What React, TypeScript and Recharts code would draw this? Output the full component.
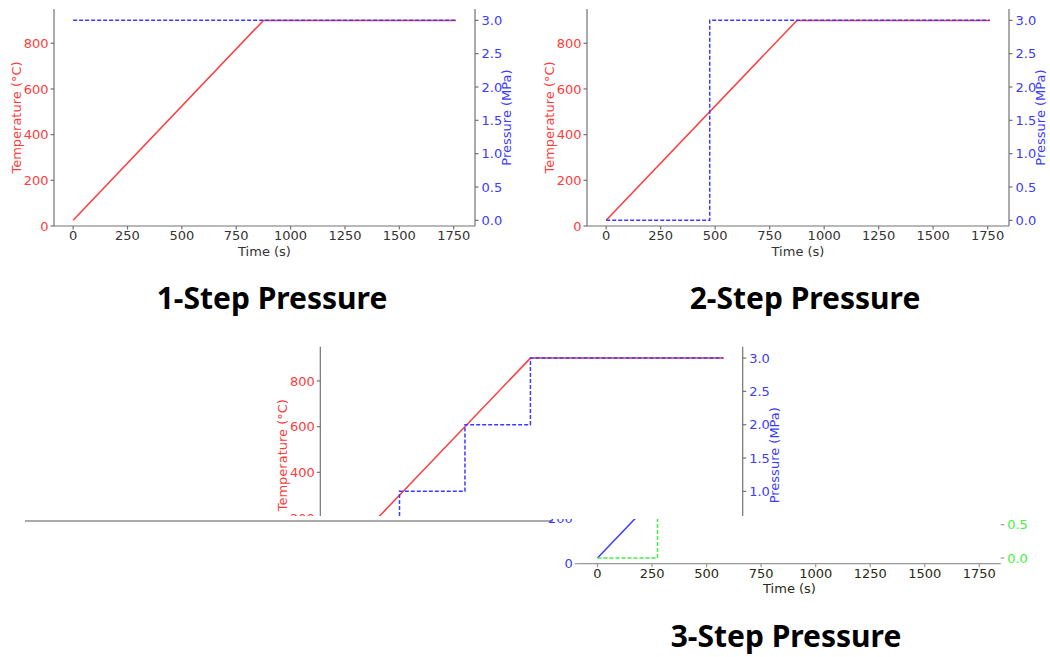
import React from "react";
import { LineChart, Line, XAxis, YAxis } from "recharts";

// time axis (s), temperature (°C), pressure (MPa)
const timeTicks = [0, 250, 500, 750, 1000, 1250, 1500, 1750];
const tempTicks = [0, 200, 400, 600, 800];
const pressTicks = [0, 0.5, 1, 1.5, 2, 2.5, 3];

const temperature = [
  { t: 0, T: 25 },
  { t: 875, T: 900 },
  { t: 1760, T: 900 },
];

const pressure1 = [
  { t: 0, P: 3 },
  { t: 1760, P: 3 },
];

const pressure2 = [
  { t: 0, P: 0 },
  { t: 475, P: 3 },
  { t: 1760, P: 3 },
];

const pressure3 = [
  { t: 0, P: 0 },
  { t: 275, P: 1 },
  { t: 575, P: 2 },
  { t: 875, P: 3 },
  { t: 1760, P: 3 },
];

const FONT = "DejaVu Sans, sans-serif";
const FS = 13;
const RED = "#ff3b3b";
const BLUE = "#3b3bff";
const GREEN = "#44ee44";
const GREY = "#737373";

const yTitle = (text: string, color: string, side: "left" | "right") => (props: any) => {
  const vb = props.viewBox || {};
  const cx = side === "left" ? vb.x + vb.width - 37.3 : vb.x + 31.5;
  const cy = vb.y + vb.height / 2;
  return (
    <text
      x={cx}
      y={cy}
      fill={color}
      fontSize={FS}
      fontFamily={FONT}
      textAnchor="middle"
      dominantBaseline="central"
      transform={`rotate(-90, ${cx}, ${cy})`}
    >
      {text}
    </text>
  );
};

const xTitle = (color: string) => (props: any) => {
  const vb = props.viewBox || {};
  return (
    <text
      x={vb.x + vb.width / 2}
      y={vb.y + 25}
      fill={color}
      fontSize={FS}
      fontFamily={FONT}
      textAnchor="middle"
      dominantBaseline="central"
    >
      Time (s)
    </text>
  );
};

type PanelProps = {
  w: number;
  h: number;
  mt: number;
  lw: number;
  rw: number;
  xh: number;
  pressure: { t: number; P: number }[];
  tempColor?: string;
  pressColor?: string;
  tickColor?: string;
  spine?: string;
  frame?: boolean;
  titles?: boolean;
};

function Panel({
  w, h, mt, lw, rw, xh, pressure,
  tempColor = RED, pressColor = BLUE, tickColor = "#333", spine = GREY,
  frame = true, titles = true,
}: PanelProps) {
  return (
    <LineChart width={w} height={h} margin={{ top: mt, right: 0, bottom: 0, left: 0 }}>
      <XAxis
        dataKey="t"
        type="number"
        domain={[-88, 1848]}
        ticks={timeTicks}
        allowDataOverflow
        height={xh}
        tickSize={3.5}
        tickMargin={1.5}
        stroke={spine}
        strokeWidth={1.2}
        tick={{ fill: tickColor, fontSize: FS, fontFamily: FONT }}
        label={{ content: xTitle(tickColor) }}
      />
      {frame && (
        <XAxis
          xAxisId="top"
          orientation="top"
          dataKey="t"
          type="number"
          domain={[-88, 1848]}
          allowDataOverflow
          height={0}
          tick={false}
          tickLine={false}
          stroke={spine}
          strokeWidth={1.2}
        />
      )}
      <YAxis
        yAxisId="temp"
        orientation="left"
        type="number"
        domain={[0, 950]}
        ticks={tempTicks}
        allowDataOverflow
        width={lw}
        tickSize={3.5}
        tickMargin={2}
        stroke={spine}
        strokeWidth={1.2}
        axisLine={frame}
        tick={{ fill: tempColor, fontSize: FS, fontFamily: FONT }}
        label={titles ? { content: yTitle("Temperature (°C)", tempColor, "left") } : undefined}
      />
      <YAxis
        yAxisId="press"
        orientation="right"
        type="number"
        domain={[-0.085, 3.17]}
        ticks={pressTicks}
        allowDataOverflow
        width={rw}
        tickSize={3.5}
        tickMargin={3}
        stroke={spine}
        strokeWidth={1.2}
        axisLine={frame}
        tickFormatter={(v: number) => v.toFixed(1)}
        tick={{ fill: pressColor, fontSize: FS, fontFamily: FONT }}
        label={titles ? { content: yTitle("Pressure (MPa)", pressColor, "right") } : undefined}
      />
      <Line
        data={temperature}
        dataKey="T"
        yAxisId="temp"
        type="linear"
        stroke={tempColor}
        strokeWidth={1.5}
        dot={false}
        isAnimationActive={false}
      />
      <Line
        data={pressure}
        dataKey="P"
        yAxisId="press"
        type="stepAfter"
        stroke={pressColor}
        strokeWidth={1.5}
        strokeDasharray="4 2"
        dot={false}
        isAnimationActive={false}
      />
    </LineChart>
  );
}

const titleStyle: React.CSSProperties = {
  position: "absolute",
  width: 400,
  textAlign: "center",
  fontFamily: "Noto Sans, sans-serif",
  fontWeight: 700,
  fontSize: 30,
  lineHeight: "30px",
  color: "#000",
  whiteSpace: "nowrap",
};

export default function App() {
  return (
    <div style={{ position: "absolute", left: 0, top: 0, width: 1050, height: 657, background: "#fff", overflow: "hidden" }}>
      <div style={{ position: "absolute", left: 0, top: 0 }}>
        <Panel w={540} h={270} mt={9} lw={54} rw={65} xh={44} pressure={pressure1} />
      </div>
      <div style={{ position: "absolute", left: 530, top: 0 }}>
        <Panel w={520} h={270} mt={9} lw={57} rw={41} xh={44} pressure={pressure2} />
      </div>
      <div style={{ ...titleStyle, left: 72, top: 282.5 }}>1-Step Pressure</div>
      <div style={{ ...titleStyle, left: 605, top: 282.5 }}>2-Step Pressure</div>

      {/* upper part of the third panel */}
      <div style={{ position: "absolute", left: 260, top: 337, width: 540, height: 179, overflow: "hidden" }}>
        <Panel w={540} h={270} mt={9.7} lw={60.3} rw={57.3} xh={43.3} pressure={pressure3} />
      </div>

      <div style={{ position: "absolute", left: 25, top: 520.3, width: 528, height: 1.6, background: "#aaa" }} />

      {/* lower part of the third panel, shifted */}
      <div style={{ position: "absolute", left: 0, top: 519, width: 1050, height: 100, overflow: "hidden" }}>
        <div style={{ position: "absolute", left: 518.2, top: -182 }}>
          <Panel
            w={540}
            h={270}
            mt={9.7}
            lw={60.3}
            rw={57.3}
            xh={43.3}
            pressure={pressure3}
            tempColor={BLUE}
            pressColor={GREEN}
            tickColor="#2a2a12"
            spine="#999"
            frame={false}
            titles={false}
          />
        </div>
      </div>
      <div style={{ ...titleStyle, left: 586, top: 621 }}>3-Step Pressure</div>
    </div>
  );
}
